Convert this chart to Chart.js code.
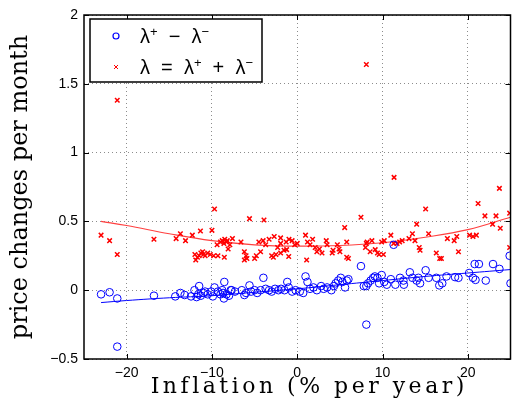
<!DOCTYPE html>
<html>
<head>
<meta charset="utf-8">
<script src="https://cdn.jsdelivr.net/npm/chart.js@4.4.1/dist/chart.umd.min.js"></script>
<style>
  html, body { margin: 0; padding: 0; background: #fff; }
  #wrap { width: 516px; height: 405px; }
</style>
</head>
<body>
<div id="wrap"><canvas id="rateChart"></canvas></div>
<script>
// tick values
var xTicks = [-20, -10, 0, 10, 20];
var yTicks = [-0.5, 0, 0.5, 1, 1.5, 2];
var xTitle = "Inflation (% per year)";
var yTitle = "price changes per month";

// lambda+ - lambda- (blue circles)
var diffX = [-23.0, -22.0, -21.1, -21.1, -16.8, -14.3, -13.7, -13.2, -12.45, -12.05, -11.8, -11.5, -11.6, -11.3, -11.0, -10.8, -10.5, -10.1, -9.9, -9.7,
  -9.3, -9.0, -8.8, -8.7, -8.6, -8.55, -8.3, -8.0, -7.8, -7.7, -7.3, -6.5, -6.2, -6.0, -5.6, -5.4, -5.0, -4.7, -4.3, -3.97,
  -3.7, -3.3, -3.0, -2.6, -2.2, -1.9, -1.5, -1.17, -1.0, -0.6, -0.2, 0.3, 0.7, 0.97, 1.2, 1.5, 1.9, 2.3, 2.8, 3.1,
  3.5, 4.0, 4.3, 4.5, 4.8, 5.1, 5.3, 5.6, 5.8, 6.0, 7.47, 7.8, 8.1, 8.1, 8.3, 8.6, 8.9, 9.1, 9.4, 9.6,
  9.9, 10.2, 10.5, 10.97, 11.3, 11.5, 12.05, 12.45, 12.5, 13.2, 13.5, 14.0, 14.2, 14.4, 15.05, 15.4, 16.3, 16.65, 17.0, 17.5,
  18.5, 18.9, 20.15, 20.6, 20.8, 20.9, 21.3, 22.1, 22.95, 23.7, 24.9, 25.0];
var diffY = [-0.03, -0.015, -0.06, -0.41, -0.04, -0.045, -0.02, -0.035, -0.045, 0.0, -0.05, 0.03, -0.03, -0.04, -0.02, -0.01, -0.03, -0.01, -0.045, 0.02,
  -0.01, -0.03, 0.0, -0.02, -0.06, 0.06, -0.03, -0.04, 0.0, 0.0, -0.01, 0.0, -0.035, -0.02, 0.035, -0.01, 0.0, -0.02, 0.0, 0.09,
  0.01, 0.0, -0.01, 0.01, 0.0, 0.01, 0.0, 0.06, 0.02, -0.01, 0.0, -0.01, -0.02, 0.10, 0.06, 0.01, 0.02, 0.0, 0.03, 0.01,
  0.02, 0.0, 0.03, 0.05, 0.07, 0.09, 0.06, 0.02, 0.07, 0.08, 0.175, 0.03, 0.03, -0.25, 0.05, 0.07, 0.09, 0.10, 0.09, 0.05,
  0.11, 0.06, 0.04, 0.08, 0.33, 0.04, 0.09, 0.07, 0.04, 0.13, 0.09, 0.07, 0.09, 0.05, 0.145, 0.09, 0.09, 0.035, 0.05, 0.10,
  0.095, 0.09, 0.125, 0.09, 0.19, 0.075, 0.19, 0.07, 0.19, 0.155, 0.25, 0.05];

// lambda = lambda+ + lambda- (red crosses)
var sumX = [-23.0, -22.0, -21.1, -21.1, -16.8, -14.2, -13.7, -13.1, -12.3, -11.35, -10.0, -9.7, -12.0, -11.9, -11.7, -11.5, -11.3, -11.1, -11.0, -10.8,
  -10.5, -10.2, -9.8, -9.3, -8.55, -9.4, -9.0, -8.8, -8.6, -8.5, -8.3, -8.1, -8.2, -7.6, -7.9, -6.6, -6.2, -6.0, -6.2, -5.9,
  -5.6, -5.0, -4.8, -4.5, -4.3, -3.9, -4.0, -3.7, -3.3, -3.0, -2.8, -2.7, -2.5, -2.3, -1.95, -1.95, -1.95, -1.55, -1.3, -1.25,
  -1.0, -0.97, -0.6, -0.3, 0.0, 0.97, 1.1, 1.2, 1.5, 1.8, 2.1, 2.3, 2.6, 2.9, 3.4, 3.5, 4.1, 4.2, 4.7, 4.9,
  5.0, 5.56, 5.8, 5.8, 6.0, 7.47, 8.0, 8.1, 8.1, 8.2, 8.55, 8.75, 9.14, 9.4, 9.6, 9.9, 10.1, 10.2, 10.97, 11.3,
  11.35, 11.7, 12.0, 12.3, 13.1, 13.5, 13.8, 14.0, 14.3, 14.4, 15.05, 15.4, 16.3, 16.7, 16.9, 17.6, 18.4, 18.7, 18.9, 20.2,
  20.6, 21.0, 21.2, 22.0, 22.9, 23.3, 23.7, 23.8, 24.9, 24.9];
var sumY = [0.40, 0.36, 0.26, 1.38, 0.37, 0.375, 0.41, 0.36, 0.40, 0.43, 0.435, 0.59, 0.26, 0.22, 0.24, 0.25, 0.27, 0.28, 0.26, 0.25,
  0.27, 0.26, 0.25, 0.25, 0.24, 0.33, 0.35, 0.36, 0.34, 0.37, 0.35, 0.30, 0.36, 0.375, 0.33, 0.35, 0.28, 0.25, 0.22, 0.23,
  0.52, 0.23, 0.25, 0.35, 0.28, 0.51, 0.36, 0.33, 0.37, 0.25, 0.24, 0.39, 0.26, 0.31, 0.38, 0.27, 0.34, 0.29, 0.35, 0.295,
  0.245, 0.37, 0.36, 0.33, 0.34, 0.40, 0.22, 0.35, 0.33, 0.37, 0.31, 0.28, 0.30, 0.27, 0.36, 0.33, 0.27, 0.29, 0.33, 0.30,
  0.28, 0.455, 0.35, 0.24, 0.23, 0.53, 0.31, 1.64, 0.34, 0.35, 0.28, 0.36, 0.295, 0.27, 0.26, 0.35, 0.26, 0.36, 0.40, 0.34,
  0.82, 0.34, 0.35, 0.36, 0.375, 0.41, 0.36, 0.48, 0.31, 0.29, 0.59, 0.41, 0.27, 0.23, 0.23, 0.375, 0.36, 0.39, 0.28, 0.40,
  0.39, 0.40, 0.63, 0.54, 0.48, 0.54, 0.74, 0.45, 0.56, 0.31];

// fitted curves
var fitX = [-23, -20, -15, -10, -5, 0, 5, 10, 15, 20, 25];
var diffFitY = [-0.09, -0.075, -0.055, -0.04, -0.015, 0.01, 0.04, 0.07, 0.10, 0.125, 0.15];
var sumFitY = [0.50, 0.47, 0.41, 0.36, 0.33, 0.32, 0.325, 0.345, 0.385, 0.44, 0.53];

function pairs(xs, ys) {
  return xs.map(function (x, i) { return { x: x, y: ys[i] }; });
}

function fmt(v) {
  return String(v).replace("-", "\u2212");
}

// draws text made of pieces, some raised as superscripts
function drawPieces(ctx, pieces, x, y) {
  pieces.forEach(function (p) {
    ctx.font = p[1] + "px 'Liberation Sans', Arial, sans-serif";
    ctx.fillText(p[0], x, y - p[2]);
    x += ctx.measureText(p[0]).width;
  });
}

var frameAndLegend = {
  id: "frameAndLegend",
  afterDraw: function (chart) {
    var ctx = chart.ctx;
    var a = chart.chartArea;
    var xs = chart.scales.x, ys = chart.scales.y;
    ctx.save();
    ctx.strokeStyle = "#000";
    ctx.lineWidth = 1;
    // inward tick marks on all four sides
    ctx.beginPath();
    xTicks.forEach(function (v) {
      var px = Math.round(xs.getPixelForValue(v)) + 0.5;
      ctx.moveTo(px, a.bottom); ctx.lineTo(px, a.bottom - 5);
      ctx.moveTo(px, a.top); ctx.lineTo(px, a.top + 5);
    });
    yTicks.forEach(function (v) {
      var py = Math.round(ys.getPixelForValue(v)) + 0.5;
      ctx.moveTo(a.left, py); ctx.lineTo(a.left + 5, py);
      ctx.moveTo(a.right, py); ctx.lineTo(a.right - 5, py);
    });
    ctx.stroke();
    ctx.lineWidth = 1.5;
    ctx.strokeRect(a.left, a.top, a.right - a.left, a.bottom - a.top);

    // x title, letter spaced like the original
    ctx.fillStyle = "#000";
    ctx.textAlign = "center";
    ctx.textBaseline = "alphabetic";
    ctx.font = "22px 'DejaVu Serif', serif";
    ctx.letterSpacing = "3.5px";
    ctx.fillText(xTitle, (a.left + a.right) / 2 + 12, 393);
    ctx.letterSpacing = "0px";

    // legend box
    var lx = 90, ly = 19, lw = 172, lh = 63;
    ctx.fillStyle = "#fff";
    ctx.fillRect(lx, ly, lw, lh);
    ctx.lineWidth = 1.5;
    ctx.strokeRect(lx, ly, lw, lh);
    ctx.strokeStyle = "#0000ff";
    ctx.lineWidth = 1.2;
    ctx.beginPath(); ctx.arc(116, 36, 3, 0, Math.PI * 2); ctx.stroke();
    ctx.strokeStyle = "#ff0000";
    ctx.lineWidth = 1;
    ctx.beginPath();
    ctx.moveTo(114, 65); ctx.lineTo(118, 69);
    ctx.moveTo(118, 65); ctx.lineTo(114, 69);
    ctx.stroke();
    ctx.fillStyle = "#000";
    ctx.textAlign = "left";
    ctx.textBaseline = "alphabetic";
    drawPieces(ctx, [["\u03bb", 20, 0], ["+", 13, 7], ["  \u2212  ", 20, 0], ["\u03bb", 20, 0], ["\u2212", 13, 7]], 140, 43);
    drawPieces(ctx, [["\u03bb", 20, 0], ["  =  ", 20, 0], ["\u03bb", 20, 0], ["+", 13, 7], ["  +  ", 20, 0], ["\u03bb", 20, 0], ["\u2212", 13, 7]], 140, 74);
    ctx.restore();
  }
};

new Chart(document.getElementById("rateChart"), {
  type: "scatter",
  data: {
    datasets: [
      {
        label: "diff",
        data: pairs(diffX, diffY),
        pointStyle: "circle",
        pointRadius: 3.8,
        borderWidth: 1,
        borderColor: "#0000ff",
        backgroundColor: "rgba(0,0,0,0)"
      },
      {
        label: "sum",
        data: pairs(sumX, sumY),
        pointStyle: "crossRot",
        pointRadius: 3.2,
        borderWidth: 1.5,
        borderColor: "#ff0000",
        backgroundColor: "#ff0000"
      },
      {
        type: "line",
        label: "diffFit",
        data: pairs(fitX, diffFitY),
        borderColor: "#0000ff",
        borderWidth: 1,
        pointRadius: 0,
        tension: 0.4,
        fill: false
      },
      {
        type: "line",
        label: "sumFit",
        data: pairs(fitX, sumFitY),
        borderColor: "#ff4040",
        borderWidth: 1.2,
        pointRadius: 0,
        tension: 0.4,
        fill: false
      }
    ]
  },
  options: {
    responsive: true,
    maintainAspectRatio: false,
    animation: false,
    layout: { padding: { top: 15, right: 1, left: 0, bottom: 0 } },
    plugins: {
      legend: { display: false },
      tooltip: { enabled: false }
    },
    scales: {
      x: {
        type: "linear",
        min: -25,
        max: 25,
        afterBuildTicks: function (scale) {
          scale.ticks = xTicks.map(function (v) { return { value: v }; });
        },
        afterFit: function (scale) { scale.height = 46; },
        grid: { color: "rgba(0,0,0,0.45)", drawTicks: false },
        border: { display: false, dash: [1, 3] },
        ticks: {
          padding: 6,
          color: "#000",
          font: { family: "'Liberation Sans', Arial, sans-serif", size: 14 },
          callback: function (v) { return fmt(v); }
        },
        title: { display: false }
      },
      y: {
        type: "linear",
        min: -0.5,
        max: 2,
        afterBuildTicks: function (scale) {
          scale.ticks = yTicks.map(function (v) { return { value: v }; });
        },
        afterFit: function (scale) { scale.width = 84; },
        grid: { color: "rgba(0,0,0,0.45)", drawTicks: false },
        border: { display: false, dash: [1, 3] },
        ticks: {
          padding: 6,
          color: "#000",
          font: { family: "'Liberation Sans', Arial, sans-serif", size: 14 },
          callback: function (v) { return fmt(v); }
        },
        title: {
          display: true,
          text: yTitle,
          color: "#000",
          font: { family: "'DejaVu Serif', serif", size: 24 },
          padding: { top: 6, bottom: 0 }
        }
      }
    }
  },
  plugins: [frameAndLegend]
});
</script>
</body>
</html>
